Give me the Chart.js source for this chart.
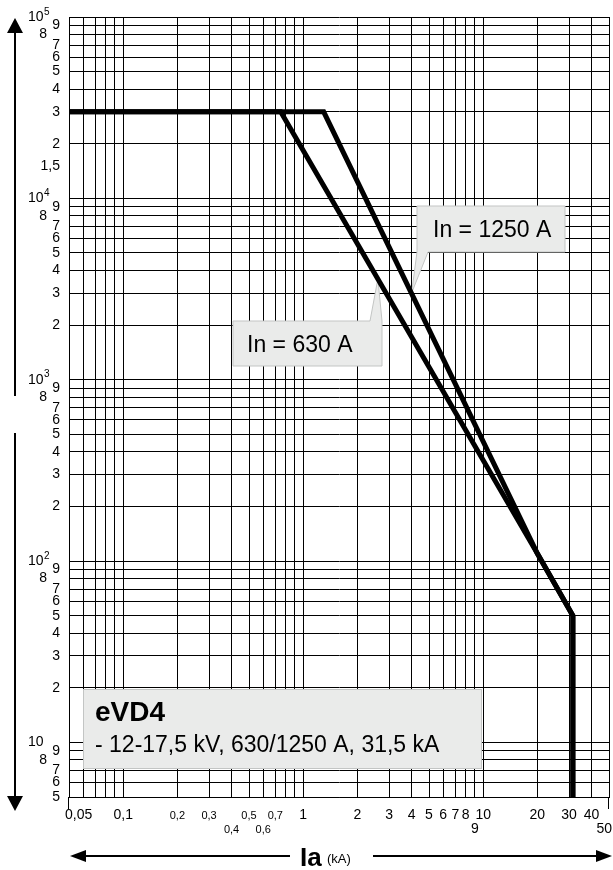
<!DOCTYPE html>
<html>
<head>
<meta charset="utf-8">
<title>eVD4</title>
<script src="https://cdn.jsdelivr.net/npm/chart.js@4.4.1/dist/chart.umd.min.js"></script>
<style>
  html, body { margin: 0; padding: 0; background: #fff; }
  #life { display: block; }
</style>
</head>
<body>
<canvas id="life" width="613" height="870"></canvas>
<script>
// number of operations against breaking current Ia (kA)
const current630 = [0.05, 0.75, 20, 31.5, 31.5];
const operations630 = [30000, 30000, 110, 50, 5];
const current1250 = [0.05, 1.3, 20, 31.5, 31.5];
const operations1250 = [30000, 30000, 110, 50, 5];

// grid lines
const xGrid = [0.05, 0.06, 0.07, 0.08, 0.09,
  0.1, 0.2, 0.3, 0.4, 0.5, 0.6, 0.7, 0.8, 0.9,
  1, 2, 3, 4, 5, 6, 7, 8, 9,
  10, 20, 30, 40, 50];
const yGrid = [5, 6, 7, 8, 9,
  10, 20, 30, 40, 50, 60, 70, 80, 90,
  100, 200, 300, 400, 500, 600, 700, 800, 900,
  1000, 2000, 3000, 4000, 5000, 6000, 7000, 8000, 9000,
  10000, 20000, 30000, 40000, 50000, 60000, 70000, 80000, 90000,
  100000];

// tick labels
const xTicksTop = [0.05, 0.1, 0.2, 0.3, 0.5, 0.7, 1, 2, 3, 4, 5, 6, 7, 8, 10, 20, 30, 40];
const xLabelsTop = ['0,05', '0,1', '0,2', '0,3', '0,5', '0,7', '1', '2', '3', '4', '5', '6', '7', '8', '10', '20', '30', '40'];
const xTicksBottom = [0.4, 0.6, 9, 50];
const xLabelsBottom = ['0,4', '0,6', '9', '50'];
const xSmallTicks = [0.2, 0.3, 0.4, 0.5, 0.6, 0.7];
const yExtraTicks = [15000];
const yExtraLabels = ['1,5'];

const FONT = "'Liberation Sans', Arial, Helvetica, sans-serif";
const BOX_FILL = '#eaebea';
const BOX_LINE = '#c3c5c4';

// callouts naming the two curves, tip given in data units
const callouts = [
  { text: 'In = 1250 A', box: [417, 206, 148, 46], textAt: [433, 237], tip: { x: 4, y: 3000 }, tail: 'bottomLeft' },
  { text: 'In = 630 A', box: [233, 321, 149, 45], textAt: [247, 352], tip: { x: 2.6, y: 3600 }, tail: 'topRight' }
];

function points(xs, ys) {
  return xs.map((x, i) => ({ x: x, y: ys[i] }));
}

function triangle(ctx, a, b, c) {
  ctx.beginPath();
  ctx.moveTo(a[0], a[1]);
  ctx.lineTo(b[0], b[1]);
  ctx.lineTo(c[0], c[1]);
  ctx.closePath();
  ctx.fill();
}

const boxesPlugin = {
  id: 'boxes',
  beforeDatasetsDraw(chart) {
    const ctx = chart.ctx;
    const xs = chart.scales.x, ys = chart.scales.y;
    ctx.save();
    ctx.fillStyle = BOX_FILL;
    ctx.strokeStyle = BOX_LINE;
    ctx.lineWidth = 1;

    callouts.forEach(c => {
      const [x0, y0, w, h] = c.box;
      const x1 = x0 + w, y1 = y0 + h;
      const tx = xs.getPixelForValue(c.tip.x);
      const ty = ys.getPixelForValue(c.tip.y);
      ctx.beginPath();
      if (c.tail === 'bottomLeft') {
        ctx.moveTo(x0, y0);
        ctx.lineTo(x1, y0);
        ctx.lineTo(x1, y1);
        ctx.lineTo(x0 + 11, y1);
        ctx.lineTo(tx, ty);
        ctx.lineTo(x0, y1);
      } else {
        ctx.moveTo(x0, y0);
        ctx.lineTo(x1 - 12, y0);
        ctx.lineTo(tx, ty);
        ctx.lineTo(x1, y0);
        ctx.lineTo(x1, y1);
        ctx.lineTo(x0, y1);
      }
      ctx.closePath();
      ctx.fill();
      ctx.stroke();
      ctx.fillStyle = '#000';
      ctx.font = '23px ' + FONT;
      ctx.textAlign = 'left';
      ctx.textBaseline = 'alphabetic';
      ctx.fillText(c.text, c.textAt[0], c.textAt[1]);
      ctx.fillStyle = BOX_FILL;
    });

    // product box
    ctx.fillRect(83, 689, 399, 80);
    ctx.strokeRect(83.5, 689.5, 398, 79);
    ctx.fillStyle = '#000';
    ctx.font = 'bold 28px ' + FONT;
    ctx.fillText('eVD4', 95, 721);
    ctx.font = '23px ' + FONT;
    ctx.fillText('- 12-17,5 kV, 630/1250 A, 31,5 kA', 95, 752);
    ctx.restore();
  }
};

const labelsPlugin = {
  id: 'labels',
  afterDraw(chart) {
    const ctx = chart.ctx;
    const xs = chart.scales.x, ys = chart.scales.y;
    const area = chart.chartArea;
    ctx.save();
    ctx.fillStyle = '#000';
    ctx.strokeStyle = '#000';

    // y axis: decades as 10 with exponent, the rest as leading digit
    ctx.textBaseline = 'middle';
    yGrid.forEach(v => {
      const py = ys.getPixelForValue(v);
      const exp = Math.floor(Math.log10(v) + 1e-9);
      const lead = Math.round(v / Math.pow(10, exp));
      if (lead === 1) {
        ctx.font = '14px ' + FONT;
        ctx.textAlign = 'right';
        ctx.fillText('10', 43.5, py);
        if (exp > 1) {
          ctx.font = '10px ' + FONT;
          ctx.textAlign = 'left';
          ctx.fillText(String(exp), 44, py - 5);
        }
      } else {
        ctx.font = '14px ' + FONT;
        ctx.textAlign = 'right';
        ctx.fillText(String(lead), lead === 8 ? 47 : 60, py);
      }
    });
    yExtraTicks.forEach((v, i) => {
      ctx.font = '14px ' + FONT;
      ctx.textAlign = 'right';
      ctx.fillText(yExtraLabels[i], 60, ys.getPixelForValue(v));
    });

    // x axis, two rows
    const xLabel = (v, text, py) => {
      const px = xs.getPixelForValue(v);
      const small = xSmallTicks.includes(v);
      ctx.font = (small ? '11px ' : '14px ') + FONT;
      if (v === xs.min) {
        ctx.textAlign = 'left';
        ctx.fillText(text, px - 4, py);
      } else if (v === xs.max) {
        ctx.textAlign = 'right';
        ctx.fillText(text, px + 3, py);
      } else {
        ctx.textAlign = 'center';
        ctx.fillText(text, px, py + (small ? 1 : 0));
      }
    };
    xTicksTop.forEach((v, i) => xLabel(v, xLabelsTop[i], area.bottom + 18));
    xTicksBottom.forEach((v, i) => xLabel(v, xLabelsBottom[i], area.bottom + 32));

    // end ticks under the axis
    ctx.lineWidth = 1;
    ctx.beginPath();
    [xs.min, xs.max].forEach(v => {
      const px = Math.round(xs.getPixelForValue(v)) - 0.5;
      ctx.moveTo(px, area.bottom);
      ctx.lineTo(px, area.bottom + 12);
    });
    ctx.stroke();

    // vertical arrow, broken in the middle
    ctx.lineWidth = 2;
    ctx.beginPath();
    ctx.moveTo(15, 30);
    ctx.lineTo(15, 396);
    ctx.moveTo(15, 433);
    ctx.lineTo(15, 798);
    ctx.stroke();
    triangle(ctx, [15, 18], [7, 33], [23, 33]);
    triangle(ctx, [15, 811], [7, 796], [23, 796]);

    // horizontal arrow with the axis name
    const ay = 856;
    ctx.beginPath();
    ctx.moveTo(84, ay);
    ctx.lineTo(290, ay);
    ctx.moveTo(373, ay);
    ctx.lineTo(598, ay);
    ctx.stroke();
    triangle(ctx, [70, ay], [86, ay - 6], [86, ay + 6]);
    triangle(ctx, [612, ay], [596, ay - 6], [596, ay + 6]);

    ctx.textBaseline = 'alphabetic';
    ctx.textAlign = 'left';
    ctx.font = 'bold 26px ' + FONT;
    ctx.fillText('Ia', 300, 866);
    ctx.font = '13px ' + FONT;
    ctx.fillText('(kA)', 327, 863);
    ctx.restore();
  }
};

const gridOptions = { color: '#000', lineWidth: 1, drawTicks: false };

new Chart(document.getElementById('life'), {
  type: 'line',
  data: {
    datasets: [
      { label: 'In = 630 A', data: points(current630, operations630) },
      { label: 'In = 1250 A', data: points(current1250, operations1250) }
    ]
  },
  options: {
    responsive: false,
    animation: false,
    devicePixelRatio: 1,
    layout: { padding: { left: 69, right: 4, top: 17, bottom: 73 } },
    plugins: { legend: { display: false }, tooltip: { enabled: false } },
    elements: {
      point: { radius: 0 },
      line: { borderWidth: 5, borderColor: '#000', tension: 0, borderJoinStyle: 'miter', fill: false }
    },
    scales: {
      x: {
        type: 'logarithmic',
        min: 0.05,
        max: 50,
        afterBuildTicks: s => { s.ticks = xGrid.map(v => ({ value: v })); },
        ticks: { display: false, autoSkip: false },
        grid: gridOptions,
        border: { color: '#000' }
      },
      y: {
        type: 'logarithmic',
        min: 5,
        max: 100000,
        afterBuildTicks: s => { s.ticks = yGrid.map(v => ({ value: v })); },
        ticks: { display: false, autoSkip: false },
        grid: gridOptions,
        border: { color: '#000' }
      }
    }
  },
  plugins: [boxesPlugin, labelsPlugin]
});
</script>
</body>
</html>
